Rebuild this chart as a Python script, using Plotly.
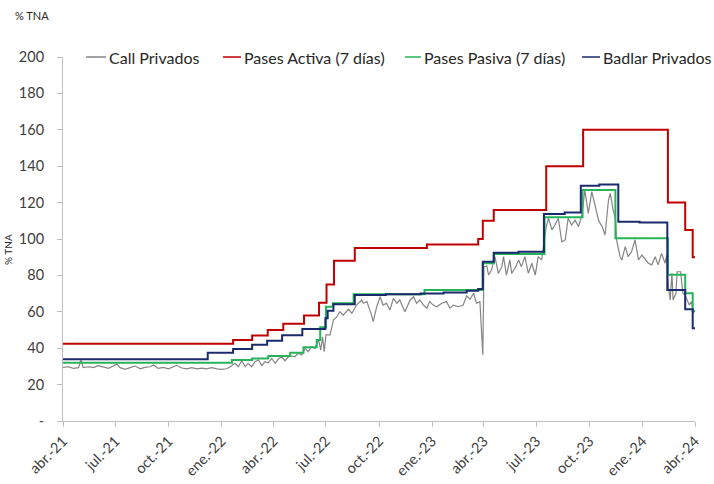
import pandas as pd
import plotly.graph_objects as go

BASE = pd.Timestamp("2021-04-01")

# ---- data: days since 2021-04-01 and rates (% TNA) ----
call_days = [0, 9, 18, 27, 31, 35, 44, 53, 61, 70, 79, 87, 93, 99, 108, 116, 125, 134, 142, 151,
             157, 165, 174, 183, 191, 197, 206, 215, 223, 232, 241, 249, 258, 267, 275, 284, 290, 295,
             298, 304, 310, 316, 321, 327, 333, 339, 345, 350, 356, 362, 368, 373, 379, 385, 391, 397,
             402, 408, 414, 420, 425, 431, 437, 443, 447, 450, 453, 456, 463, 469, 475, 480, 486, 495,
             501, 509, 518, 521, 527, 535, 538, 544, 550, 555, 561, 567, 573, 579, 584, 593, 602, 608,
             613, 619, 625, 631, 636, 642, 648, 657, 665, 671, 677, 686, 694, 700, 706, 712, 717, 723,
             728, 730, 735, 738, 743, 749, 755, 761, 764, 769, 775, 778, 784, 790, 795, 801, 807, 813,
             819, 824, 830, 834, 838, 842, 848, 853, 859, 865, 871, 876, 882, 888, 894, 900, 905, 911,
             917, 923, 929, 935, 940, 946, 949, 954, 958, 960, 966, 969, 975, 980, 986, 992, 998, 1004,
             1009, 1015, 1021, 1027, 1032, 1038, 1044, 1047, 1050, 1053, 1056, 1058, 1063, 1065, 1071,
             1075, 1079, 1083, 1086, 1090, 1093, 1096]
call_vals = [29.5, 29.8, 28.9, 29.3, 33.5, 29.3, 29.8, 29.3, 30.4, 29.8, 28.9, 30.2, 31.3, 29.3, 28.4,
             29.3, 30.2, 28.7, 29.5, 29.8, 30.8, 28.9, 29.5, 28.7, 29.8, 30.6, 29.1, 28.7, 29.3, 28.6,
             29.1, 28.7, 29.3, 28.6, 28.4, 28.7, 29.8, 31.3,
             31.7, 29.8, 33.1, 29.8, 31.7, 29.8, 32.6, 33.5, 30.4, 32.6, 32.0, 34.4, 31.7, 33.9, 35.3,
             33.1, 35.3, 35.7, 35.3, 37.2, 36.3, 40.0, 38.1, 40.8, 39.9, 44.9, 39.0, 46.3, 38.1, 47.3,
             47.3, 55.5, 57.3, 60.0, 58.2, 61.4, 59.2, 63.7, 66.5, 64.7, 65.6, 58.2, 54.6, 62.8, 68.3,
             63.7, 64.7, 61.0, 67.4, 64.7, 66.5, 60.0, 66.5, 68.3, 64.7, 66.5, 63.7, 62.0, 65.6, 63.7,
             62.8, 64.7, 65.6, 62.0, 63.7, 62.8, 63.7, 68.8, 66.9, 70.2, 64.7, 65.6,
             36.3, 84.8, 85.2, 80.2, 82.9, 90.3, 81.1, 84.8, 90.3, 80.2, 88.5, 81.1, 83.9, 88.5, 84.8,
             90.3, 81.1, 86.7, 80.2, 90.3, 88.5, 97.6, 106.8, 111.4, 105.0, 107.7, 111.4, 98.5, 99.5,
             111.4, 107.7, 110.4, 106.8, 113.2, 126.9, 114.0, 126.0, 118.0, 110.0, 106.8, 102.2, 121.4,
             125.1, 116.0, 111.4, 99.5, 90.3, 88.4, 95.8, 90.3, 93.0, 99.5, 88.5, 91.2, 89.4, 86.7,
             85.8, 90.3, 85.8, 92.1, 86.7, 91.2, 73.8, 66.5, 81.1, 66.5, 70.2, 82.0, 82.0, 70.2, 69.2,
             66.5, 63.7, 65.6, 59.2, 61.0]

activa_days = [0, 295, 328, 355, 382, 418, 444, 457, 470, 506, 631, 720, 728, 747, 838, 902, 1049, 1079, 1092, 1098]
activa_vals = [42.5, 44.5, 47.0, 50.0, 53.5, 58.0, 65.0, 75.0, 88.0, 95.0, 97.0, 100.0, 110.0, 116.0, 140.0,
               160.0, 120.0, 105.0, 90.0, 90.0]

pasiva_days = [0, 293, 328, 356, 394, 417, 440, 446, 456, 468, 504, 627, 728, 747, 835, 901, 958, 1049, 1079, 1092, 1098]
pasiva_vals = [32.0, 33.5, 34.4, 35.7, 37.5, 40.5, 44.5, 51.5, 62.8, 64.7, 69.6, 72.0, 86.7, 91.8, 111.9,
               126.9, 100.4, 80.3, 70.2, 60.5, 60.5]

badlar_days = [0, 251, 295, 328, 354, 380, 415, 455, 459, 469, 506, 560, 620, 660, 700, 720, 728, 747, 790,
               834, 870, 898, 930, 963, 1000, 1048, 1079, 1092, 1098]
badlar_vals = [33.9, 37.5, 39.6, 41.9, 44.1, 47.1, 50.5, 56.4, 60.6, 64.2, 69.2, 69.6, 70.1, 70.6, 71.5,
               72.5, 87.5, 92.5, 93.0, 113.7, 114.5, 129.3, 130.0, 109.5, 109.0, 72.0, 61.4, 50.9, 50.9]

tick_dates = ["2021-04-01", "2021-07-01", "2021-10-01", "2022-01-01", "2022-04-01", "2022-07-01",
              "2022-10-01", "2023-01-01", "2023-04-01", "2023-07-01", "2023-10-01", "2024-01-01", "2024-04-01"]
tick_text = ["abr.-21", "jul.-21", "oct.-21", "ene.-22", "abr.-22", "jul.-22", "oct.-22", "ene.-23",
             "abr.-23", "jul.-23", "oct.-23", "ene.-24", "abr.-24"]
y_ticks = [0, 20, 40, 60, 80, 100, 120, 140, 160, 180, 200]
y_text = ["-", "20", "40", "60", "80", "100", "120", "140", "160", "180", "200"]

series_names = ["Call Privados", "Pases Activa (7 días)", "Pases Pasiva (7 días)", "Badlar Privados"]
series_colors = ["#858585", "#c00000", "#27b35a", "#1a2a6c"]


def to_dates(days):
    return [BASE + pd.Timedelta(days=d) for d in days]


fig = go.Figure()
fig.add_trace(go.Scatter(x=to_dates(call_days), y=call_vals, mode="lines", name=series_names[0],
                         line=dict(color=series_colors[0], width=1.2)))
fig.add_trace(go.Scatter(x=to_dates(activa_days), y=activa_vals, mode="lines", name=series_names[1],
                         line=dict(color=series_colors[1], width=2, shape="hv")))
fig.add_trace(go.Scatter(x=to_dates(pasiva_days), y=pasiva_vals, mode="lines", name=series_names[2],
                         line=dict(color=series_colors[2], width=2, shape="hv")))
fig.add_trace(go.Scatter(x=to_dates(badlar_days), y=badlar_vals, mode="lines", name=series_names[3],
                         line=dict(color=series_colors[3], width=2, shape="hv")))

font_family = "Lato, Liberation Sans, sans-serif"
fig.update_layout(
    width=714, height=484,
    margin=dict(l=63, r=19, t=57, b=63, autoexpand=False),
    paper_bgcolor="white", plot_bgcolor="white",
    font=dict(family=font_family, color="#404040", size=14),
    showlegend=False,
    xaxis=dict(type="date", range=["2021-04-01", "2024-04-01"], tickvals=tick_dates, ticktext=tick_text,
               tickangle=-45, showgrid=False, zeroline=False, showline=True, linecolor="#bfbfbf",
               linewidth=1, ticks="outside", ticklen=5, tickcolor="#bfbfbf", automargin=False,
               tickfont=dict(size=14.5, color="#404040")),
    yaxis=dict(range=[0, 200], tickvals=y_ticks, ticktext=y_text, showgrid=False, zeroline=False,
               showline=True, linecolor="#bfbfbf", linewidth=1, ticks="outside", ticklen=5,
               tickcolor="#bfbfbf", automargin=False, ticklabelstandoff=10,
               tickfont=dict(size=14.5, color="#404040")),
)

# legend drawn as line samples + labels along the top edge of the plot
W, H = 632.0, 364.0
legend_px = [(86, 106), (223, 241), (405, 421), (582, 600)]
for (x0, x1), name, color in zip(legend_px, series_names, series_colors):
    fig.add_shape(type="line", xref="paper", yref="paper", x0=(x0 - 63) / W, x1=(x1 - 63) / W,
                  y0=1.0, y1=1.0, line=dict(color=color, width=1.5))
    fig.add_annotation(text=name, xref="paper", yref="paper", x=(x1 + 1 - 63) / W, y=1.0,
                       xanchor="left", yanchor="middle", showarrow=False,
                       font=dict(size=16, color="#262626"))

fig.add_annotation(text="% TNA", xref="paper", yref="paper", x=-0.087, y=0.47, textangle=-90,
                   xanchor="center", yanchor="middle", showarrow=False,
                   font=dict(size=10, color="#262626"))
fig.add_annotation(text="% TNA", xref="paper", yref="paper", x=-0.079, y=1.115, xanchor="left",
                   yanchor="middle", showarrow=False, font=dict(size=11, color="#262626"))
fig.write_html("out.html", config={"displayModeBar": False},
               post_script="document.body.style.margin='0';")
